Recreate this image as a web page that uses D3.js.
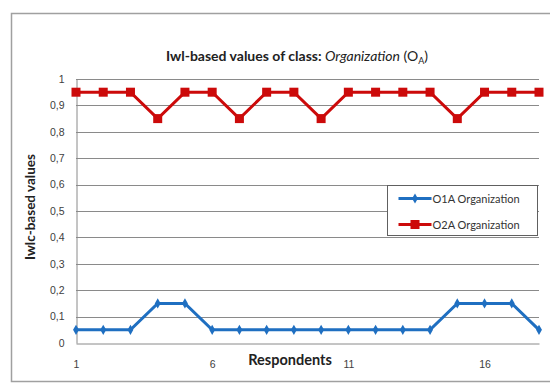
<!DOCTYPE html>
<html>
<head>
<meta charset="utf-8">
<script src="https://cdn.jsdelivr.net/npm/d3@7"></script>
<style>
  html, body { margin: 0; padding: 0; background: #fff; }
  svg { display: block; font-family: Lato, "Open Sans", sans-serif; }
</style>
</head>
<body>
<svg id="chart" width="550" height="384"></svg>
<script>
// Respondents 1..18
const respondents = d3.range(1, 19);
const xTickLabels = [1, 6, 11, 16];
const yTicks = [0, 0.1, 0.2, 0.3, 0.4, 0.5, 0.6, 0.7, 0.8, 0.9, 1];

const o1aValues = [0.05, 0.05, 0.05, 0.15, 0.15, 0.05, 0.05, 0.05, 0.05, 0.05, 0.05, 0.05, 0.05, 0.05, 0.15, 0.15, 0.15, 0.05];
const o2aValues = [0.95, 0.95, 0.95, 0.85, 0.95, 0.95, 0.85, 0.95, 0.95, 0.85, 0.95, 0.95, 0.95, 0.95, 0.85, 0.95, 0.95, 0.95];

const seriesNames = ["O1A Organization", "O2A Organization"];
const seriesColors = ["#1f6fc1", "#cc0a0a"];

const svg = d3.select("#chart");

// outer chart frame
svg.append("rect")
  .attr("x", 11.5).attr("y", 13.5)
  .attr("width", 560).attr("height", 368)
  .attr("fill", "#fff").attr("stroke", "#a0a0a0").attr("stroke-width", 1.5);

const plot = { left: 76, right: 539, top: 79, bottom: 343 };

const x = d3.scalePoint().domain(respondents).range([plot.left, plot.right]);
const y = d3.scaleLinear().domain([0, 1]).range([plot.bottom, plot.top]);

// horizontal gridlines
svg.append("g")
  .selectAll("line").data(yTicks.filter(d => d > 0)).join("line")
  .attr("x1", plot.left).attr("x2", plot.right)
  .attr("y1", d => Math.round(y(d)) + 0.5).attr("y2", d => Math.round(y(d)) + 0.5)
  .attr("stroke", "#8a8a8a").attr("stroke-width", 1);

// y axis
const yAxis = svg.append("g")
  .attr("transform", `translate(${plot.left + 0.5},0)`)
  .call(d3.axisLeft(y).tickValues(yTicks).tickSize(0).tickPadding(12)
    .tickFormat(d => d3.format("")(+d.toFixed(1)).replace(".", ",")));
yAxis.select(".domain").attr("stroke", "#8a8a8a");
yAxis.selectAll("text").attr("fill", "#404040").attr("font-size", 10.5);

// x axis
const xAxis = svg.append("g")
  .attr("transform", `translate(0,${plot.bottom + 0.5})`)
  .call(d3.axisBottom(x).tickValues(xTickLabels).tickSize(0).tickPadding(17));
xAxis.select(".domain").attr("stroke", "#8a8a8a");
xAxis.selectAll("text").attr("fill", "#404040").attr("font-size", 10.5);

// series lines and markers
const line = d3.line().x((d, i) => x(respondents[i])).y(d => y(d));

svg.append("path").datum(o1aValues)
  .attr("d", line).attr("fill", "none")
  .attr("stroke", seriesColors[0]).attr("stroke-width", 3).attr("stroke-linejoin", "miter");
svg.append("g").selectAll("path").data(o1aValues).join("path")
  .attr("transform", (d, i) => `translate(${x(respondents[i])},${y(d)})`)
  .attr("d", d3.symbol(d3.symbolDiamond, 30))
  .attr("fill", seriesColors[0]);

svg.append("path").datum(o2aValues)
  .attr("d", line).attr("fill", "none")
  .attr("stroke", seriesColors[1]).attr("stroke-width", 3).attr("stroke-linejoin", "miter");
svg.append("g").selectAll("rect").data(o2aValues).join("rect")
  .attr("x", (d, i) => x(respondents[i]) - 4.5)
  .attr("y", d => y(d) - 4.5)
  .attr("width", 9).attr("height", 9)
  .attr("fill", seriesColors[1]);

// title
const title = svg.append("text")
  .attr("x", 297).attr("y", 61)
  .attr("text-anchor", "middle")
  .attr("font-size", 14).attr("fill", "#222");
title.append("tspan").attr("font-weight", "bold").text("Iwl-based values of class: ");
title.append("tspan").attr("font-style", "italic").text("Organization");
title.append("tspan").text(" (O");
title.append("tspan").attr("font-size", 9).attr("dy", 3).text("A");
title.append("tspan").attr("dy", -3).text(")");

// axis titles
svg.append("text")
  .attr("x", 290).attr("y", 365)
  .attr("text-anchor", "middle")
  .attr("font-size", 14.5).attr("font-weight", "bold").attr("fill", "#222")
  .text("Respondents");

svg.append("text")
  .attr("transform", "translate(35,207) rotate(-90)")
  .attr("text-anchor", "middle")
  .attr("font-size", 13.5).attr("font-weight", "bold").attr("fill", "#222")
  .text("Iwlc-based values");

// legend
const legend = svg.append("g").attr("transform", "translate(387.5,185.5)");
legend.append("rect")
  .attr("width", 150).attr("height", 50)
  .attr("fill", "#fff").attr("stroke", "#606060").attr("stroke-width", 1);
seriesNames.forEach((name, i) => {
  const cy = 13 + i * 26;
  legend.append("line")
    .attr("x1", 11).attr("x2", 44).attr("y1", cy).attr("y2", cy)
    .attr("stroke", seriesColors[i]).attr("stroke-width", 3);
  if (i === 0) {
    legend.append("path")
      .attr("transform", `translate(27.5,${cy})`)
      .attr("d", d3.symbol(d3.symbolDiamond, 30))
      .attr("fill", seriesColors[i]);
  } else {
    legend.append("rect")
      .attr("x", 23).attr("y", cy - 4.5).attr("width", 9).attr("height", 9)
      .attr("fill", seriesColors[i]);
  }
  legend.append("text")
    .attr("x", 45).attr("y", cy + 4)
    .attr("font-size", 11).attr("fill", "#333")
    .text(name);
});
</script>
</body>
</html>
